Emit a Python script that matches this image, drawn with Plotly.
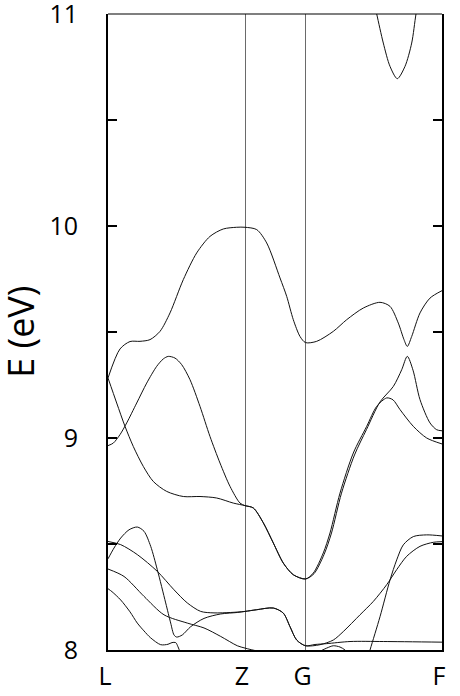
import plotly.graph_objects as go

# high-symmetry points (k-path coordinate, arbitrary units)
kpt_labels = ["L", "Z", "G", "F"]
kpt_pos = [0, 137, 197.5, 334]

# energy axis ticks
y_ticks = [8, 8.5, 9, 9.5, 10, 10.5, 11]
y_ticktext = ["8", "", "9", "", "10", "", "11"]

# bands (k, E in eV)
band_a_k = [0, 12, 22, 32, 42, 52, 62, 75.3, 88.7, 102, 115.3, 128.7, 137, 148.7, 158.7, 172, 178.7,
            185.3, 192, 197.5, 208.7, 225.3, 238.7, 255.3, 272, 282, 290.3, 296, 299.3, 303.7, 312, 322, 334]
band_a_e = [9.283, 9.42, 9.455, 9.456, 9.464, 9.503, 9.59, 9.747, 9.873, 9.951, 9.986, 9.994, 9.994, 9.983,
            9.92, 9.755, 9.668, 9.558, 9.479, 9.45, 9.456, 9.503, 9.558, 9.613, 9.64, 9.621, 9.542, 9.464,
            9.432, 9.479, 9.59, 9.66, 9.695]

band_b_k = [0, 8.7, 17, 25.3, 35.3, 45.3, 58.7, 75.3, 92, 108.7, 125.3, 137, 145.3, 155.3, 165.3, 175.3,
            185.3, 197.5, 205.3, 215.3, 222, 232, 245.3, 258.7, 268.7, 278.7, 285, 292, 305.3, 318.7, 334]
band_b_e = [9.283, 9.165, 9.055, 8.96, 8.866, 8.795, 8.748, 8.724, 8.724, 8.717, 8.693, 8.681, 8.670, 8.6,
            8.505, 8.41, 8.355, 8.335, 8.363, 8.458, 8.552, 8.74, 8.929, 9.055, 9.149, 9.189, 9.18, 9.134,
            9.055, 9.0, 8.972]

band_c_k = [0, 5.3, 12, 18.7, 28.7, 38.7, 48.7, 55.3, 60.3, 67, 73.7, 82, 92, 102, 112, 122, 132, 137,
            145.3, 155.3, 165.3, 175.3, 185.3, 197.5, 206, 216, 223.5, 233.5, 246.5, 258.5, 272, 285.3,
            293.7, 299.3, 305, 312, 322, 328.7, 334]
band_c_e = [8.964, 8.976, 9.016, 9.071, 9.165, 9.259, 9.338, 9.373, 9.385, 9.377, 9.346, 9.275, 9.149,
            9.007, 8.882, 8.772, 8.693, 8.681, 8.670, 8.6, 8.505, 8.41, 8.355, 8.335, 8.36, 8.45, 8.552,
            8.74, 8.92, 9.04, 9.17, 9.243, 9.322, 9.385, 9.32, 9.181, 9.071, 9.039, 9.034]

band_d1_k = [0, 12.7, 29.3, 49.3, 66, 79.3, 92.7, 106, 122.7, 137, 148.7, 165.3, 175.3, 182, 188.7, 197.5,
             212, 225.3, 235.3, 252, 265.3, 278.7, 288.7, 298.7, 312, 325.3, 334]
band_d1_e = [8.512, 8.497, 8.45, 8.371, 8.284, 8.222, 8.182, 8.175, 8.177, 8.182, 8.19, 8.198, 8.174, 8.11,
             8.047, 8.02, 8.025, 8.047, 8.087, 8.166, 8.229, 8.308, 8.379, 8.442, 8.489, 8.508, 8.511]

band_d3_k = [0, 6, 12.7, 21, 29.3, 36, 42.7, 49.3, 57.7, 62.7, 66, 68.7, 74.3, 82.7, 96, 112.7, 129.3, 137,
             148.7, 165.3, 175.3, 182, 188.7, 197.5, 207, 218.7, 242, 275.3, 334]
band_d3_e = [8.43, 8.481, 8.528, 8.567, 8.58, 8.56, 8.489, 8.379, 8.222, 8.127, 8.071, 8.061, 8.071, 8.11,
             8.149, 8.17, 8.177, 8.182, 8.19, 8.198, 8.174, 8.11, 8.047, 8.02, 8.026, 8.03, 8.04, 8.04, 8.037]

band_d4_k = [0, 16, 36, 56, 79.3, 96, 112.7, 129.3, 137, 150, 170, 190, 197.5, 207, 218.7, 225.3, 232, 237,
             245, 255]
band_d4_e = [8.382, 8.347, 8.253, 8.166, 8.127, 8.104, 8.064, 8.02, 8.009, 7.995, 7.99, 7.99, 7.985, 7.985,
             8.009, 8.02, 8.014, 8.0, 7.96, 7.9]

band_d5_k = [0, 4, 12.7, 22, 29.3, 36, 42.7, 52.7, 60, 64, 67.7, 70, 72, 77]
band_d5_e = [8.289, 8.275, 8.236, 8.18, 8.127, 8.09, 8.057, 8.025, 8.027, 8.035, 8.035, 8.015, 7.99, 7.9]

band_q2_k = [248, 255, 262, 272, 282, 288.7, 295.3, 305.3, 318.7, 334]
band_q2_e = [7.8, 7.89, 8.0, 8.157, 8.33, 8.425, 8.496, 8.535, 8.543, 8.538]

band_top_k = [264, 268.7, 275.3, 282, 289.3, 297, 303.7, 308, 312]
band_top_e = [11.1, 11.0, 10.863, 10.753, 10.695, 10.753, 10.863, 11.0, 11.1]

bands = [
    (band_a_k, band_a_e), (band_b_k, band_b_e), (band_c_k, band_c_e),
    (band_d1_k, band_d1_e), (band_d3_k, band_d3_e), (band_d4_k, band_d4_e),
    (band_d5_k, band_d5_e), (band_q2_k, band_q2_e), (band_top_k, band_top_e),
]

fig = go.Figure()
for bk, be in bands:
    fig.add_trace(go.Scatter(x=bk, y=be, mode="lines",
                             line=dict(color="#111111", width=1, shape="spline", smoothing=0.8),
                             hoverinfo="skip", showlegend=False))

font_family = "Open Sans"
fig.update_layout(
    width=460, height=696,
    margin=dict(l=108, r=18, t=14, b=46, autoexpand=False),
    paper_bgcolor="white", plot_bgcolor="white",
    font=dict(family=font_family, color="black", size=25),
    showlegend=False,
)
fig.update_xaxes(
    range=[kpt_pos[0], kpt_pos[-1]], automargin=False,
    tickvals=kpt_pos, ticktext=kpt_labels,
    ticks="", showgrid=True, gridcolor="#6a6a6a", gridwidth=1,
    showline=True, linecolor="black", linewidth=2, mirror=False,
    zeroline=False, ticklabelstandoff=3, ticklabelshift=-3, ticklabeloverflow="allow",
    tickfont=dict(size=25, family=font_family),
)
fig.update_yaxes(
    range=[8, 11], automargin=False,
    tickvals=y_ticks, ticktext=y_ticktext,
    ticks="inside", ticklen=9, tickwidth=1.5, tickcolor="black",
    showgrid=False, zeroline=False,
    showline=True, linecolor="black", linewidth=2, mirror="allticks",
    ticklabelstandoff=23, ticklabeloverflow="allow",
    tickfont=dict(size=25, family=font_family),
)
# thin top frame line
fig.add_shape(type="line", xref="paper", yref="paper", x0=0, x1=1, y0=1, y1=1,
              line=dict(color="black", width=1.2))
fig.add_annotation(text="E (eV)", xref="paper", yref="paper", x=-0.264, y=0.5,
                   xanchor="center", yanchor="middle", textangle=-90, showarrow=False,
                   font=dict(size=36, family=font_family))

fig.write_html("out.html", config={"displayModeBar": False},
               post_script="document.body.style.margin='0';document.body.style.overflow='hidden';")
